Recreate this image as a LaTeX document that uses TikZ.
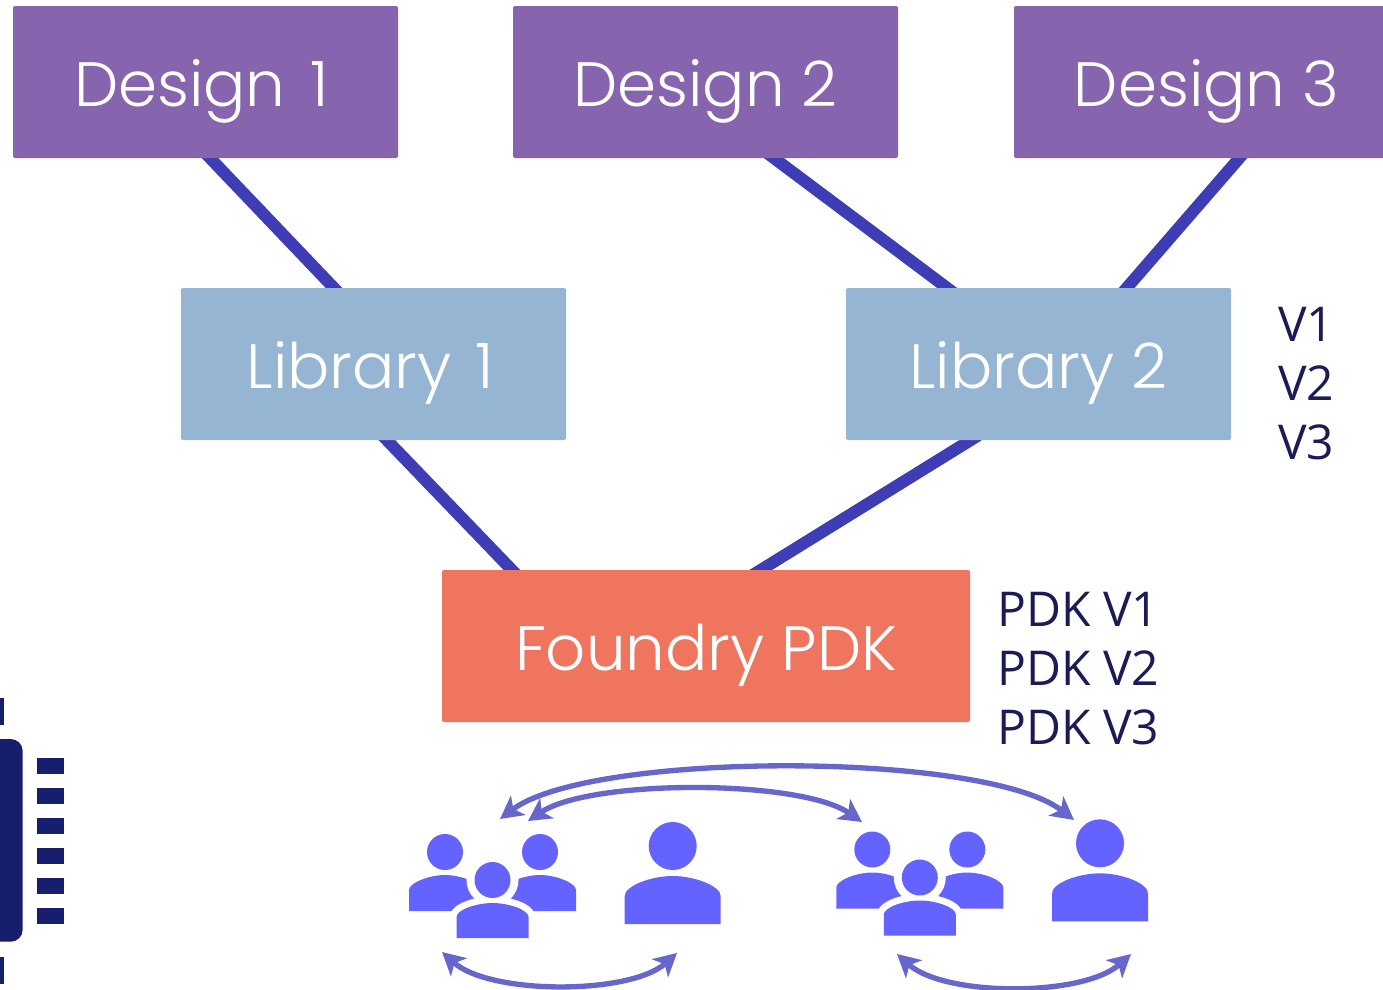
\documentclass[tikz,border=0pt]{standalone}
\usepackage{fontspec}
\usetikzlibrary{arrows.meta,calc,backgrounds}
\newfontfamily\boxfont[UprightFont=* Light]{Poppins}
\newfontfamily\labelfont{Open Sans}
\definecolor{dpurple}{HTML}{8764AE}
\definecolor{lblue}{HTML}{95B5D3}
\definecolor{forange}{HTML}{F0755F}
\definecolor{linkblue}{HTML}{3F3DB5}
\definecolor{iconblue}{HTML}{6563FF}
\definecolor{arrowblue}{HTML}{6766CC}
\definecolor{navy}{HTML}{171E6D}
\definecolor{labelnavy}{HTML}{1B1B55}
\tikzset{
  x=0.75pt,y=-0.75pt,
  block/.style={rectangle,rounded corners=1.5pt,text=white,minimum height=114pt,
    minimum width=288.75pt,inner sep=0pt,text height=36pt,text depth=0pt,
    font=\boxfont\fontsize{47}{56}\selectfont},
  designbox/.style={block,fill=dpurple},
  libbox/.style={block,fill=lblue},
  pdkbox/.style={block,fill=forange,minimum width=396pt},
  link/.style={draw=linkblue,line width=9pt},
  versions/.style={text=labelnavy,anchor=north west,align=left,inner sep=0pt,
    font=\labelfont\fontsize{36}{44.25}\selectfont},
  swap/.style={draw=arrowblue,line width=4pt,
    {Stealth[length=17pt,width=18pt,inset=4.5pt]}-{Stealth[length=17pt,width=18pt,inset=4.5pt]}},
  pin/.style={fill=navy},
  single/.pic={
    \fill[iconblue] (0,0) circle (24);
    \fill[iconblue] (-48,78) -- (-48,50) .. controls (-48,40) and (-22,30) .. (0,30)
      .. controls (22,30) and (48,40) .. (48,50) -- (48,78) -- cycle;
  },
  crowd/.pic={
    \fill[iconblue] (0,0) circle (18);
    \fill[iconblue] (95,0) circle (18);
    \fill[iconblue] (-36,59) -- (-36,38) .. controls (-36,31) and (-16,23) .. (0,23)
      .. controls (16,23) and (36,31) .. (36,38) -- (36,59) -- cycle;
    \fill[iconblue] (59,59) -- (59,38) .. controls (59,31) and (79,23) .. (95,23)
      .. controls (111,23) and (131,31) .. (131,38) -- (131,59) -- cycle;
    \fill[white] (47.5,28) circle (26);
    \path[fill=white,draw=white,line width=10pt,line join=round] (11.5,86) -- (11.5,65)
      .. controls (11.5,58) and (31,51) .. (47.5,51)
      .. controls (64,51) and (83.5,58) .. (83.5,65) -- (83.5,86) -- cycle;
    \fill[iconblue] (47.5,28) circle (18);
    \fill[iconblue] (11.5,86) -- (11.5,65) .. controls (11.5,58) and (31,51) .. (47.5,51)
      .. controls (64,51) and (83.5,58) .. (83.5,65) -- (83.5,86) -- cycle;
  }
}
\begin{document}
\begin{tikzpicture}
\useasboundingbox (0,0) rectangle (1383,989);
% boxes
\node[designbox] (d1) at (205.5,82) {Design\kern6pt{} 1\kern6pt};
\node[designbox] (d2) at (705.5,82) {Design 2};
\node[designbox] (d3) at (1206.5,82) {Design 3};
\node[libbox] (l1) at (373.5,364) {Library\kern5pt{} 1\kern5pt};
\node[libbox] (l2) at (1038.5,364) {Library 2};
\node[pdkbox] (pdk) at (706,646) {Foundry PDK};
% links
\begin{pgfonlayer}{background}
\draw[link] ($(d1.south)+(0,-5)$) -- ($(l1.north)+(-35,5)$);
\draw[link] ($(d2.south)+(62,-5)$) -- ($(l2.north)+(-85,5)$);
\draw[link] ($(d3.south)+(37,-5)$) -- ($(l2.north)+(84,5)$);
\draw[link] ($(l1.south)+(8.7,-5)$) -- ($(pdk.north)+(-189.5,5)$);
\draw[link] ($(l2.south)+(-60,-5)$) -- ($(pdk.north)+(47,5)$);
\end{pgfonlayer}
% version labels
\node[versions] (vl) at (1278,307) {V1\\V2\\V3};
\node[versions] (pl) at (997,592) {PDK V1\\PDK V2\\PDK V3};
% people
\pic at (445,852) {crowd};
\pic at (672.7,846) {single};
\pic at (872.3,849.5) {crowd};
\pic at (1100,843.3) {single};
% arrow ends
\coordinate (a1) at (500,819);
\coordinate (a2) at (1074,820);
\coordinate (b1) at (528,821);
\coordinate (b2) at (862,822);
\coordinate (c1) at (442,952);
\coordinate (c2) at (677,953);
\coordinate (e1) at (897,954);
\coordinate (e2) at (1131,954);
\draw[swap] (a1) .. controls (590,751) and (985,751) .. (a2);
\draw[swap] (b1) .. controls (590,779) and (800,779) .. (b2);
\draw[swap] (c1) .. controls (490,995) and (630,995) .. (c2);
\draw[swap] (e1) .. controls (945,997) and (1083,997) .. (e2);
% chip
\fill[navy] (0,739) [rounded corners=9pt] -- (22.7,739) -- (22.7,941.7) [sharp corners] -- (0,941.7) -- cycle;
\fill[pin] (0,698) rectangle (4,725);
\fill[pin] (0,957) rectangle (4,984);
\foreach \py in {758,788,818,848,878,908}
  \fill[pin] (37,\py) rectangle (64,\py+16);
\end{tikzpicture}
\end{document}
